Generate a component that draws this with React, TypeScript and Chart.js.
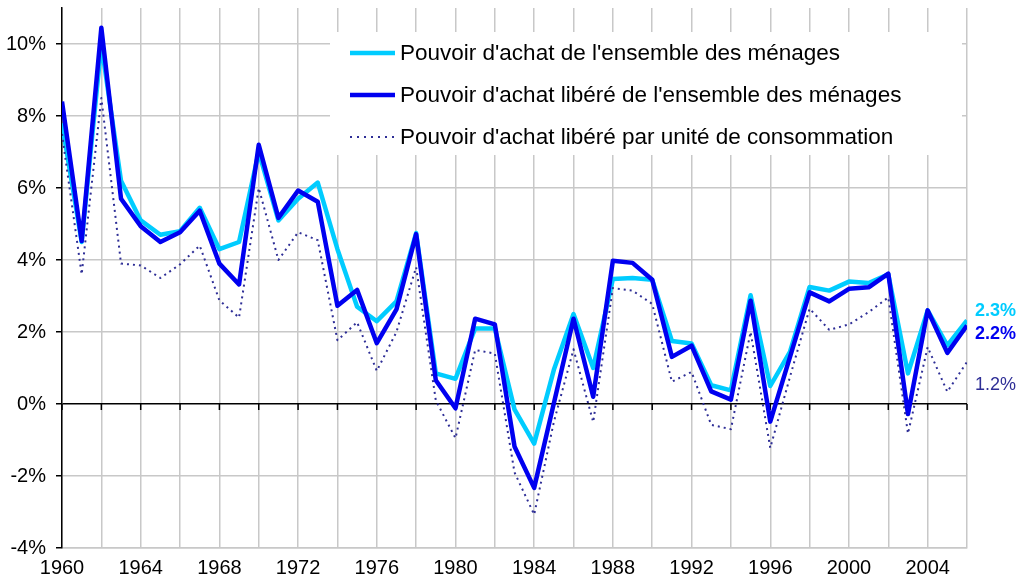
import React, { useEffect, useRef } from "react";
import { Chart, registerables } from "chart.js";

Chart.register(...registerables);

const years: number[] = [
  1960, 1961, 1962, 1963, 1964, 1965, 1966, 1967, 1968, 1969,
  1970, 1971, 1972, 1973, 1974, 1975, 1976, 1977, 1978, 1979,
  1980, 1981, 1982, 1983, 1984, 1985, 1986, 1987, 1988, 1989,
  1990, 1991, 1992, 1993, 1994, 1995, 1996, 1997, 1998, 1999,
  2000, 2001, 2002, 2003, 2004, 2005, 2006,
];

// Pouvoir d'achat de l'ensemble des ménages
const pouvoirAchat: number[] = [
  7.8, 4.5, 10.0, 6.2, 5.1, 4.7, 4.8, 5.45, 4.3, 4.5,
  7.0, 5.1, 5.7, 6.15, 4.3, 2.7, 2.3, 2.85, 4.75, 0.85,
  0.7, 2.1, 2.1, -0.15, -1.1, 0.95, 2.5, 1.0, 3.47, 3.5,
  3.45, 1.75, 1.68, 0.52, 0.38, 3.02, 0.5, 1.45, 3.25, 3.15,
  3.4, 3.36, 3.6, 0.85, 2.6, 1.63, 2.32,
];

// Pouvoir d'achat libéré de l'ensemble des ménages
const pouvoirLibere: number[] = [
  8.4, 4.53, 10.45, 5.7, 4.94, 4.5, 4.77, 5.37, 3.9, 3.32,
  7.2, 5.17, 5.93, 5.62, 2.73, 3.17, 1.69, 2.63, 4.72, 0.66,
  -0.12, 2.37, 2.21, -1.18, -2.33, 0.02, 2.37, 0.2, 3.98, 3.92,
  3.45, 1.31, 1.62, 0.35, 0.12, 2.87, -0.49, 1.3, 3.1, 2.85,
  3.2, 3.24, 3.62, -0.28, 2.6, 1.42, 2.18,
];

// Pouvoir d'achat libéré par unité de consommation
const pouvoirUC: number[] = [
  7.5, 3.6, 8.5, 3.9, 3.85, 3.5, 3.88, 4.4, 2.88, 2.4,
  6.0, 4.0, 4.77, 4.55, 1.77, 2.27, 0.92, 2.0, 3.8, 0.1,
  -0.95, 1.5, 1.4, -1.9, -3.07, -0.5, 1.52, -0.5, 3.22, 3.15,
  2.78, 0.62, 0.89, -0.58, -0.7, 2.0, -1.22, 0.75, 2.65, 2.06,
  2.21, 2.55, 2.96, -0.82, 1.58, 0.34, 1.17,
];

const seriesLabels: string[] = [
  "Pouvoir d'achat de l'ensemble des ménages",
  "Pouvoir d'achat libéré de l'ensemble des ménages",
  "Pouvoir d'achat libéré par unité de consommation",
];

const endLabels: string[] = ["2.3%", "2.2%", "1.2%"];
// value positions of the end labels on the y scale
const endLabelValues: number[] = [2.57, 1.93, 0.52];

const CYAN = "#00ccff";
const BLUE = "#0000f0";
const NAVY = "#2e2e96";
const GRID = "#c8c8c8";
const FONT = "'Liberation Sans', Arial, Helvetica, sans-serif";

export default function App() {
  const ref = useRef<HTMLCanvasElement | null>(null);

  useEffect(() => {
    const canvas = ref.current;
    if (!canvas) return;

    const toPts = (arr: number[]) => years.map((y, i) => ({ x: y, y: arr[i] }));

    const decor = {
      id: "decor",
      beforeDatasetsDraw(chart: any) {
        const { ctx, scales } = chart;
        const xs = scales.x;
        const ys = scales.y;
        const y0 = ys.getPixelForValue(0);
        ctx.save();
        ctx.strokeStyle = "#000";
        ctx.lineWidth = 1.5;
        for (let yr = 1960; yr <= 2006; yr += 2) {
          const px = xs.getPixelForValue(yr);
          ctx.beginPath();
          ctx.moveTo(px, y0);
          ctx.lineTo(px, y0 + 6);
          ctx.stroke();
        }
        ctx.restore();
      },
      afterDraw(chart: any) {
        const { ctx, scales, chartArea } = chart;
        const ys = scales.y;
        ctx.save();
        // legend box
        ctx.fillStyle = "#fff";
        ctx.fillRect(330, 32, 632, 123);
        const rows = [53, 95, 137];
        const colors = [CYAN, BLUE, NAVY];
        for (let i = 0; i < 3; i++) {
          ctx.beginPath();
          ctx.strokeStyle = colors[i];
          if (i === 2) {
            ctx.lineWidth = 2;
            ctx.setLineDash([2, 5]);
          } else {
            ctx.lineWidth = 4.5;
            ctx.setLineDash([]);
          }
          ctx.moveTo(350, rows[i]);
          ctx.lineTo(395, rows[i]);
          ctx.stroke();
          ctx.setLineDash([]);
          ctx.fillStyle = "#000";
          ctx.font = `22.5px ${FONT}`;
          ctx.textBaseline = "middle";
          ctx.textAlign = "left";
          ctx.fillText(seriesLabels[i], 400, rows[i] + 1);
        }
        // end labels
        const weights = ["bold", "bold", "normal"];
        for (let i = 0; i < 3; i++) {
          ctx.font = `${weights[i]} 18px ${FONT}`;
          ctx.fillStyle = colors[i];
          ctx.textBaseline = "middle";
          ctx.textAlign = "left";
          ctx.fillText(endLabels[i], chartArea.right + 8, ys.getPixelForValue(endLabelValues[i]));
        }
        ctx.restore();
      },
    };

    const chart = new Chart(canvas, {
      type: "line",
      data: {
        datasets: [
          {
            label: seriesLabels[0],
            data: toPts(pouvoirAchat),
            borderColor: CYAN,
            backgroundColor: CYAN,
            borderWidth: 4.5,
            borderJoinStyle: "round",
            pointRadius: 0,
            tension: 0,
            order: 3,
          },
          {
            label: seriesLabels[1],
            data: toPts(pouvoirLibere),
            borderColor: BLUE,
            backgroundColor: BLUE,
            borderWidth: 4.5,
            borderJoinStyle: "round",
            pointRadius: 0,
            tension: 0,
            order: 2,
          },
          {
            label: seriesLabels[2],
            data: toPts(pouvoirUC),
            borderColor: NAVY,
            backgroundColor: NAVY,
            borderWidth: 2,
            borderDash: [2, 4],
            borderJoinStyle: "round",
            pointRadius: 0,
            tension: 0,
            order: 1,
          },
        ],
      },
      options: {
        animation: false,
        responsive: false,
        layout: { padding: { top: 8, right: 56, left: 0, bottom: 0 } },
        plugins: {
          legend: { display: false },
          tooltip: { enabled: false },
        },
        scales: {
          x: {
            type: "linear",
            min: 1960,
            max: 2006,
            ticks: {
              stepSize: 2,
              autoSkip: false,
              maxRotation: 0,
              includeBounds: false,
              padding: 8,
              color: "#000",
              font: { size: 20, family: FONT },
              callback: (v: any) => ((v - 1960) % 4 === 0 && v < 2006 ? String(v) : ""),
            },
            grid: { color: GRID, lineWidth: 1.5, drawTicks: false },
            border: { color: GRID, width: 1.5 },
            afterFit: (s: any) => {
              s.height = 33;
              s.paddingLeft = 0;
              s.paddingRight = 0;
            },
          },
          y: {
            min: -4,
            max: 11,
            ticks: {
              stepSize: 2,
              includeBounds: false,
              padding: 10,
              color: "#000",
              font: { size: 20, family: FONT },
              callback: (v: any) => `${v}%`,
            },
            grid: {
              color: (c: any) => (c.tick && c.tick.value === 0 ? "#000" : GRID),
              lineWidth: 1.5,
              tickLength: 6,
              tickColor: "#000",
            },
            border: { color: "#000", width: 1.5 },
            afterFit: (s: any) => {
              s.width = 62;
              s.paddingTop = 0;
              s.paddingBottom = 0;
            },
          },
        },
      },
      plugins: [decor],
    } as any);

    return () => chart.destroy();
  }, []);

  return (
    <div style={{ position: "absolute", left: 0, top: 0, width: 1023, height: 581, background: "#fff" }}>
      <canvas ref={ref} width={1023} height={581} style={{ display: "block" }} />
    </div>
  );
}
